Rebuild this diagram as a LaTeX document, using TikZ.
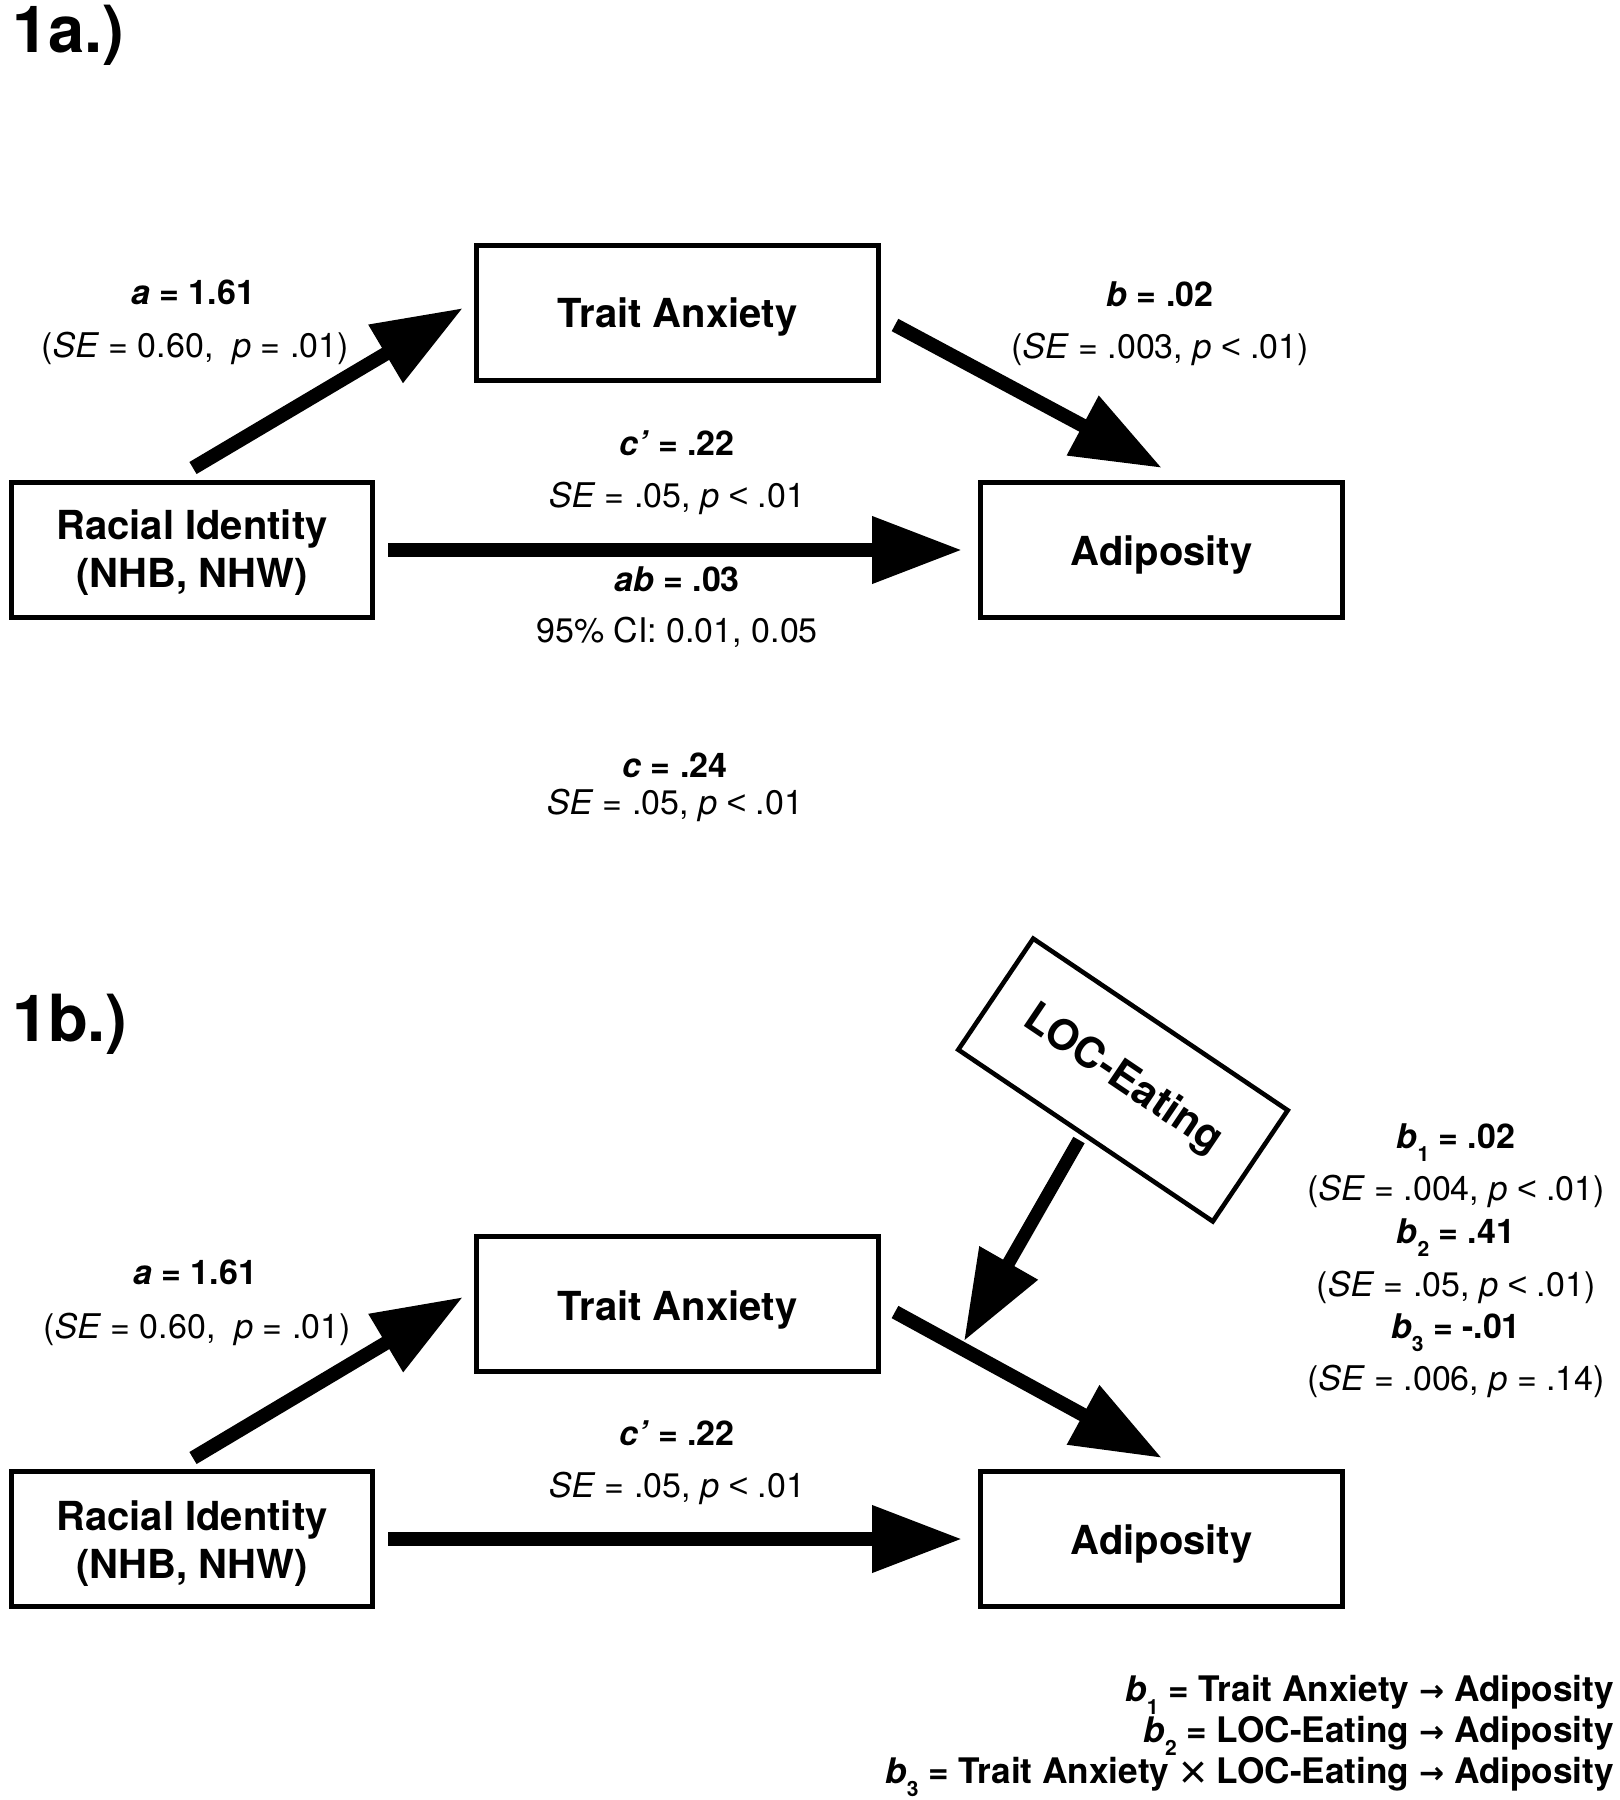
\documentclass[tikz,border=0pt]{standalone}
\usepackage{fontspec}
\setmainfont{TeX Gyre Heros}
\newfontfamily\symf{Liberation Sans}
\newfontfamily\arrf{DejaVu Sans}
\usetikzlibrary{arrows.meta}
\newcommand\myboxfont{\fontsize{20}{24}\selectfont\bfseries}
\newcommand\mylabfont{\fontsize{17}{20}\selectfont}
\newcommand\mylegfont{\fontsize{17.6}{20}\selectfont\bfseries}
\newcommand\myheadfont{\fontsize{32.5}{36}\selectfont\bfseries}
\newcommand\mysb[1]{\raisebox{-0.38em}{\fontsize{10.5}{11}\selectfont #1}}
\newcommand\mytimes{\raisebox{-2.6pt}{\symf\mdseries\fontsize{24}{24}\selectfont ×}}
\newcommand\mylt{{\symf <}}
\newcommand\myto{{\arrf\bfseries\fontsize{15}{15}\selectfont →}}
\newcommand\mydn[2]{\raisebox{-#1}[\height][\depth]{#2}}
\begin{document}
\begin{tikzpicture}[x=0.5pt,y=-0.5pt,
  every node/.style={inner sep=0pt, outer sep=0pt},
  box/.style={draw, line width=2.5pt, minimum height=67.5pt, align=center, font=\myboxfont},
  lab/.style={font=\mylabfont, align=center},
  leg/.style={font=\mylegfont, anchor=base east},
  head/.style={font=\myheadfont, anchor=base west},
  arr/.style={line width=7pt, -{Triangle[length=45pt,width=32pt]}},
]
\fill[white] (0,0) rectangle (1620,1800);
\useasboundingbox (0,0) rectangle (1620,1800);

% ---------- 1a ----------
\node[head] (h1) at (12,52) {1a.)};
\node[box, minimum width=201pt] (ta1) at (677.5,312.5) {\mydn{2.4pt}{Trait Anxiety}};
\node[box, minimum width=180.5pt] (ri1) at (192,550) {\mydn{1.3pt}{Racial Identity}\\\mydn{1.3pt}{(NHB, NHW)}};
\node[box, minimum width=181pt] (ad1) at (1161.5,550) {\mydn{2.4pt}{Adiposity}};

\coordinate (a1s) at (193,468);
\coordinate (a1e) at (463,308);
\coordinate (b1s) at (895,325);
\coordinate (b1e) at (1162,468);
\draw[arr] (a1s) -- (a1e);
\draw[arr] (b1s) -- (b1e);
\draw[arr, shorten <=7.75pt, shorten >=9.25pt] (ri1) -- (ad1);

\node[lab] (la1) at (193,292) {\textbf{\textit{a}} \textbf{= 1.61}};
\node[lab] (la1s) at (195,348) {(\textit{SE} = 0.60,\ \ \textit{p} = .01)};
\node[lab] (lb1) at (1160,294) {\textbf{\textit{b}} \textbf{= .02}};
\node[lab] (lb1s) at (1160,349) {(\textit{SE} = .003, \textit{p} \mylt{} .01)};
\node[lab] (lc1) at (677,443) {\textbf{\textit{c’}} \textbf{= .22}};
\node[lab] (lc1s) at (677,498) {\textit{SE} = .05, \textit{p} \mylt{} .01};
\node[lab] (lab1) at (677,579) {\textbf{\textit{ab}} \textbf{= .03}};
\node[lab] (lab1s) at (677,632) {95\% CI: 0.01, 0.05};
\node[lab] (lct) at (675,765) {\textbf{\textit{c}} \textbf{= .24}};
\node[lab] (lcts) at (675,805) {\textit{SE} = .05, \textit{p} \mylt{} .01};

% ---------- 1b ----------
\node[head] (h2) at (12,1041) {1b.)};
\node[box, minimum width=201pt] (ta2) at (677.5,1304) {\mydn{2.8pt}{Trait Anxiety}};
\node[box, minimum width=180.5pt] (ri2) at (192,1539) {\mydn{2.2pt}{Racial Identity}\\\mydn{2.2pt}{(NHB, NHW)}};
\node[box, minimum width=181pt] (ad2) at (1161.5,1539) {\mydn{2.4pt}{Adiposity}};
\node[draw, line width=2.3pt, minimum width=153.5pt, minimum height=67pt, rotate=-34, font=\fontsize{21}{24}\selectfont\bfseries] (loc) at (1123,1080) {LOC-Eating};

\coordinate (a2s) at (193,1458);
\coordinate (a2e) at (463,1297);
\coordinate (b2s) at (895,1312);
\coordinate (b2e) at (1162,1458);
\coordinate (ls) at (1079,1140);
\coordinate (le) at (964,1341);
\draw[arr] (a2s) -- (a2e);
\draw[arr] (b2s) -- (b2e);
\draw[arr, shorten <=7.75pt, shorten >=9.25pt] (ri2) -- (ad2);
\draw[arr, line width=6.5pt] (ls) -- (le);

\node[lab] (la2) at (195,1272) {\textbf{\textit{a}} \textbf{= 1.61}};
\node[lab] (la2s) at (197,1329) {(\textit{SE} = 0.60,\ \ \textit{p} = .01)};
\node[lab] (lc2) at (677,1433) {\textbf{\textit{c’}} \textbf{= .22}};
\node[lab] (lc2s) at (677,1488) {\textit{SE} = .05, \textit{p} \mylt{} .01};

\node[lab] (s1) at (1456,1143) {\textbf{\textit{b}\mysb{1} = .02}};
\node[lab] (s1s) at (1456,1191) {(\textit{SE} = .004, \textit{p} \mylt{} .01)};
\node[lab] (s2) at (1456,1238) {\textbf{\textit{b}\mysb{2} = .41}};
\node[lab] (s2s) at (1456,1287) {(\textit{SE} = .05, \textit{p} \mylt{} .01)};
\node[lab] (s3) at (1456,1333) {\textbf{\textit{b}\mysb{3} = -.01}};
\node[lab] (s3s) at (1456,1381) {(\textit{SE} = .006, \textit{p} = .14)};

\node[leg] (g1) at (1614,1701) {\textit{b}\mysb{1} = Trait Anxiety \myto{} Adiposity};
\node[leg] (g2) at (1614,1742) {\textit{b}\mysb{2} = LOC-Eating \myto{} Adiposity};
\node[leg] (g3) at (1614,1783) {\textit{b}\mysb{3} = Trait Anxiety \mytimes{} LOC-Eating \myto{} Adiposity};
\end{tikzpicture}
\end{document}
